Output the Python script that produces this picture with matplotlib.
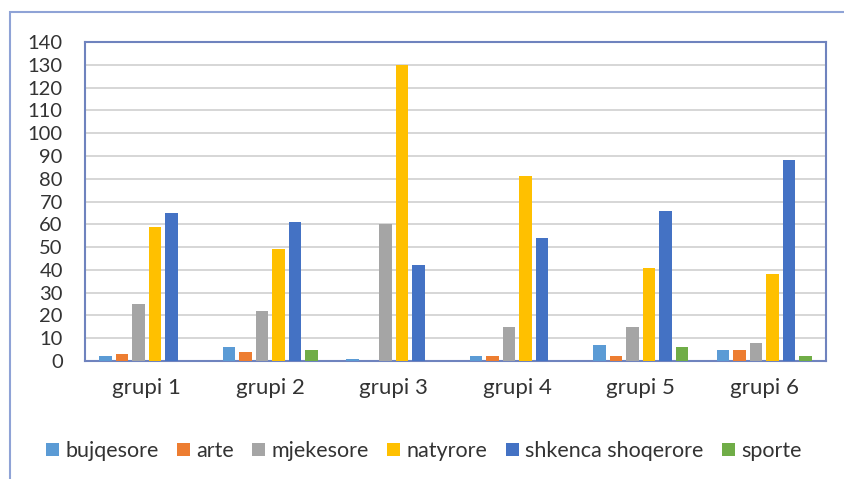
import numpy as np
import matplotlib.pyplot as plt
from matplotlib.patches import Rectangle

grupet = ["grupi 1", "grupi 2", "grupi 3", "grupi 4", "grupi 5", "grupi 6"]
seri = ["bujqesore", "arte", "mjekesore", "natyrore", "shkenca shoqerore", "sporte"]

bujqesore = [2, 6, 1, 2, 7, 5]
arte = [3, 4, 0, 2, 2, 5]
mjekesore = [25, 22, 60, 15, 15, 8]
natyrore = [59, 49, 130, 81, 41, 38]
shkenca = [65, 61, 42, 54, 66, 88]
sporte = [0, 5, 0, 0, 6, 2]

ngjyrat = ["#5B9BD5", "#ED7D31", "#A5A5A5", "#FFC000", "#4472C4", "#70AD47"]
vlerat = [bujqesore, arte, mjekesore, natyrore, shkenca, sporte]

plt.rcParams['font.family'] = ['Lato', 'DejaVu Sans']

fig = plt.figure(figsize=(8.45, 4.79), dpi=100)
ax = fig.add_axes([0.1006, 0.2463, 0.877, 0.666])

x = np.arange(len(grupet))
w = 0.134
for i, (emri, v) in enumerate(zip(seri, vlerat)):
    ax.bar(x + (i - 2.5) * w, v, width=w * 0.75, color=ngjyrat[i], label=emri, zorder=3)

ax.set_xlim(-0.5, len(grupet) - 0.5)
ax.set_ylim(0, 140)
ax.set_yticks(range(0, 141, 10))
ax.set_xticks(x)
ax.set_xticklabels(grupet)
ax.tick_params(length=0, colors="#333333")
ax.tick_params(axis="y", labelsize=14.5, pad=16)
ax.tick_params(axis="x", labelsize=16, pad=12)
ax.grid(axis="y", color="#D0D0D0", linewidth=1.2, zorder=0)
for s in ax.spines.values():
    s.set_color("#6F83BE")
    s.set_linewidth(1.5)

ax.legend(loc="upper center", bbox_to_anchor=(0.457, -0.19), ncol=6, frameon=False,
          fontsize=15.5, handlelength=0.6, handleheight=0.6, handletextpad=0.3,
          columnspacing=0.85, labelcolor="#333333")

# korniza e jashtme e grafikut
fig.add_artist(Rectangle((10 / 845, -0.1), 1.2, (479 - 12) / 479 + 0.1,
                         transform=fig.transFigure, fill=False,
                         edgecolor="#8FA3D6", linewidth=1.5))

fig.savefig("out.png", dpi=100)
